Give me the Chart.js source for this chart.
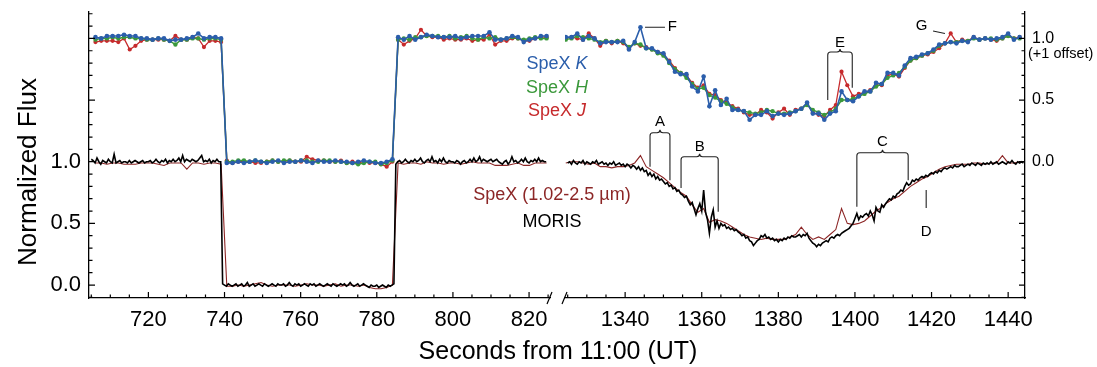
<!DOCTYPE html>
<html>
<head>
<meta charset="utf-8">
<title>Occultation light curves</title>
<script src="https://cdn.jsdelivr.net/npm/chart.js@4.4.1/dist/chart.umd.min.js"></script>
<style>
  body { margin: 0; background: #fff; }
  #wrap { position: relative; width: 1097px; height: 367px; }
  #wrap canvas { position: absolute; left: 0; top: 0; }
</style>
</head>
<body>
<div id="wrap">
  <canvas id="leftChart" width="1097" height="367"></canvas>
  <canvas id="rightChart" width="1097" height="367"></canvas>
</div>
<script>
'use strict';

// tick labels
let leftTicks = [720, 740, 760, 780, 800, 820];
let rightTicks = [1340, 1360, 1380, 1400, 1420, 1440];
let fluxTicks = [0, 0.5, 1.0];
let offsetTicks = [1.0, 1.5, 2.0];
let upperOffset = 1;

// sampling (seconds from 11:00 UT)
let spexStep = 1.5;
let spexLeftStart = 706.1;
let spexRightStart = 1324.5;
let morisStep = 0.5;
let morisLeftStart = 705.0;
let morisRightStart = 1325.0;

// SpeX K / H / J, plotted with +1 offset
let spexKLeft = [
  1.01, 1.00, 1.02, 1.02, 1.02, 1.03, 1.02, 1.02, 1.00, 1.00,
  0.99, 1.00, 1.00, 0.98, 0.99, 0.99, 1.00, 1.01, 1.04, 1.00,
  1.01, 1.01, 1.00, -0.01, -0.01, 0.00, -0.01, 0.00, 0.01, 0.00,
  -0.01, 0.00, 0.01, -0.01, 0.00, 0.00, 0.01, 0.00, -0.01, 0.01,
  0.00, 0.00, 0.01, 0.00, 0.00, -0.01, 0.00, 0.01, 0.00, -0.01,
  -0.01, 0.00, 0.02, 1.01, 0.99, 1.02, 0.99, 1.01, 1.03, 1.02,
  1.01, 1.01, 1.01, 1.02, 1.00, 1.01, 1.02, 1.02, 1.02, 1.05,
  0.99, 0.99, 1.00, 1.02, 1.01, 0.97, 0.99, 1.00, 1.02, 1.02
];
let spexHLeft = [
  0.99, 1.00, 1.00, 1.01, 1.00, 1.01, 1.01, 1.00, 1.00, 0.99,
  0.99, 1.00, 0.99, 0.98, 0.95, 0.99, 0.99, 1.00, 1.00, 0.99,
  1.00, 1.00, 0.99, 0.00, 0.00, 0.01, 0.01, 0.00, 0.01, 0.00,
  0.00, 0.01, 0.00, 0.01, 0.01, 0.00, 0.01, 0.01, 0.00, 0.00,
  0.01, 0.01, 0.00, 0.00, -0.01, -0.01, -0.02, -0.01, 0.00, 0.00,
  -0.02, -0.01, 0.01, 0.99, 1.00, 0.99, 1.01, 1.01, 1.02, 1.02,
  1.02, 1.01, 1.02, 1.00, 1.01, 1.02, 1.00, 0.99, 1.01, 1.00,
  1.01, 0.99, 1.00, 1.01, 1.00, 0.99, 1.00, 1.01, 1.00, 1.00
];
let spexJLeft = [
  0.97, 0.98, 0.98, 0.98, 0.97, 1.00, 0.91, 0.94, 0.98, 0.99,
  0.99, 0.99, 0.99, 0.98, 1.02, 0.99, 0.99, 1.01, 1.00, 0.93,
  0.98, 0.98, 0.97, 0.01, -0.01, 0.00, 0.00, 0.00, -0.01, -0.01,
  0.00, 0.01, 0.00, 0.00, 0.01, 0.00, 0.00, 0.04, 0.02, 0.01,
  0.01, 0.00, 0.00, 0.01, -0.01, 0.00, -0.01, 0.00, -0.01, -0.01,
  -0.02, -0.04, 0.00, 0.99, 0.95, 0.98, 1.00, 1.07, 1.02, 1.01,
  1.01, 0.99, 1.00, 0.99, 0.99, 1.00, 0.98, 0.99, 0.99, 1.03,
  0.95, 0.98, 0.98, 1.00, 1.00, 0.98, 0.98, 1.00, 1.01, 1.01
];
let spexKRight = [
  1.01, 1.01, 1.04, 0.99, 1.02, 1.00, 0.96, 0.97, 0.97, 0.97,
  0.98, 0.91, 0.97, 1.09, 0.92, 0.92, 0.89, 0.88, 0.81, 0.73,
  0.71, 0.71, 0.61, 0.57, 0.69, 0.45, 0.58, 0.46, 0.51, 0.42,
  0.42, 0.41, 0.34, 0.38, 0.38, 0.41, 0.37, 0.39, 0.38, 0.39,
  0.41, 0.43, 0.48, 0.39, 0.39, 0.34, 0.39, 0.41, 0.57, 0.50,
  0.49, 0.53, 0.57, 0.57, 0.64, 0.63, 0.72, 0.72, 0.70, 0.78,
  0.84, 0.85, 0.87, 0.88, 0.91, 0.95, 0.96, 0.97, 0.96, 0.98,
  0.97, 1.01, 0.99, 1.00, 0.99, 1.00, 1.01, 1.04, 0.99, 1.01
];
let spexHRight = [
  0.99, 1.00, 1.02, 1.01, 1.00, 0.99, 0.97, 0.98, 0.97, 0.98,
  0.97, 0.93, 0.96, 0.95, 0.92, 0.91, 0.88, 0.86, 0.80, 0.75,
  0.72, 0.68, 0.63, 0.59, 0.60, 0.54, 0.52, 0.49, 0.47, 0.44,
  0.42, 0.41, 0.40, 0.39, 0.40, 0.42, 0.41, 0.39, 0.39, 0.40,
  0.41, 0.43, 0.46, 0.42, 0.40, 0.38, 0.40, 0.43, 0.50, 0.50,
  0.51, 0.53, 0.55, 0.57, 0.61, 0.63, 0.68, 0.70, 0.72, 0.77,
  0.82, 0.84, 0.86, 0.88, 0.90, 0.94, 0.96, 0.97, 0.97, 0.98,
  0.98, 1.00, 0.99, 1.00, 1.00, 0.99, 1.00, 1.02, 1.00, 1.00
];
let spexJRight = [
  1.00, 1.01, 1.00, 0.99, 1.04, 1.00, 0.94, 0.98, 0.96, 0.98,
  0.96, 0.92, 0.96, 0.94, 0.93, 0.91, 0.89, 0.87, 0.82, 0.76,
  0.72, 0.70, 0.64, 0.60, 0.62, 0.55, 0.54, 0.50, 0.48, 0.45,
  0.43, 0.40, 0.38, 0.38, 0.42, 0.40, 0.35, 0.40, 0.43, 0.38,
  0.42, 0.43, 0.47, 0.40, 0.38, 0.37, 0.42, 0.46, 0.73, 0.62,
  0.53, 0.55, 0.56, 0.58, 0.62, 0.62, 0.70, 0.71, 0.69, 0.76,
  0.82, 0.84, 0.86, 0.87, 0.89, 0.92, 0.96, 1.04, 0.97, 0.99,
  0.98, 1.01, 0.99, 1.00, 0.99, 0.98, 1.00, 1.02, 1.00, 1.01
];

// SpeX 1.02-2.5 um combined
let spexLeft = [
  0.99, 0.99, 0.98, 0.99, 0.99, 0.98, 0.98, 0.98, 0.99, 0.99,
  0.99, 0.98, 0.97, 0.99, 0.99, 0.99, 0.94, 0.99, 0.99, 0.98,
  0.99, 0.99, 0.98, -0.01, -0.01, 0.00, -0.01, 0.00, 0.01, 0.02,
  0.00, -0.01, 0.00, 0.00, 0.00, -0.01, 0.00, 0.01, 0.00, 0.00,
  -0.01, 0.00, 0.01, -0.01, 0.00, 0.00, -0.01, 0.00, -0.02, -0.03,
  -0.03, -0.02, 0.00, 0.99, 0.98, 0.99, 0.99, 0.98, 1.00, 0.99,
  0.99, 0.98, 0.99, 0.99, 0.98, 0.99, 1.00, 0.99, 0.99, 0.99,
  0.97, 0.97, 0.97, 0.98, 0.99, 0.97, 0.97, 0.99, 0.99, 0.99
];
let spexRight = [
  0.99, 1.00, 1.00, 0.99, 0.98, 0.99, 0.96, 0.96, 0.95, 0.96,
  0.96, 0.97, 0.99, 1.05, 0.96, 0.93, 0.90, 0.87, 0.83, 0.79,
  0.75, 0.72, 0.65, 0.59, 0.62, 0.51, 0.53, 0.52, 0.50, 0.47,
  0.44, 0.41, 0.39, 0.38, 0.37, 0.38, 0.37, 0.37, 0.37, 0.39,
  0.41, 0.47, 0.41, 0.37, 0.39, 0.37, 0.41, 0.45, 0.62, 0.50,
  0.49, 0.50, 0.52, 0.56, 0.60, 0.63, 0.67, 0.70, 0.72, 0.76,
  0.80, 0.83, 0.86, 0.88, 0.91, 0.94, 0.96, 0.97, 0.98, 0.98,
  0.98, 0.99, 0.99, 0.98, 0.99, 0.99, 1.05, 0.99, 0.99, 1.00
];

// MORIS
let morisLeft = [
  1.02, 1.01, 0.99, 1.03, 1.00, 0.98, 1.01, 1.00, 0.99, 1.02,
  1.00, 0.99, 1.06, 0.99, 1.00, 1.01, 0.99, 1.00, 1.00, 0.99,
  1.01, 0.99, 1.00, 1.01, 1.00, 0.99, 1.00, 1.01, 0.99, 1.00,
  1.00, 1.01, 0.99, 1.00, 1.02, 1.00, 0.99, 1.01, 1.00, 1.02,
  0.99, 1.01, 1.00, 1.02, 1.00, 1.01, 1.03, 1.00, 1.05, 1.00,
  1.02, 1.01, 1.00, 1.02, 1.01, 1.00, 1.01, 1.03, 1.05, 1.00,
  1.01, 1.00, 1.02, 0.99, 1.01, 1.00, 1.02, 1.00, 1.00, 0.01,
  0.00, -0.01, 0.01, 0.00, -0.01, 0.00, 0.01, -0.01, 0.00, 0.01,
  -0.01, 0.00, 0.02, -0.01, 0.00, 0.01, -0.01, 0.00, 0.01, 0.00,
  -0.01, 0.01, 0.00, -0.01, 0.00, 0.01, 0.00, -0.01, 0.01, 0.00,
  0.00, 0.01, -0.01, 0.00, 0.02, 0.00, -0.01, 0.01, 0.00, 0.01,
  -0.01, 0.00, 0.01, 0.00, -0.01, 0.01, 0.00, 0.01, -0.01, 0.00,
  0.01, 0.00, -0.01, 0.00, 0.01, 0.00, -0.01, 0.01, 0.00, -0.01,
  0.00, 0.01, 0.00, 0.01, -0.01, 0.00, 0.02, 0.00, -0.01, 0.00,
  0.01, -0.01, 0.00, 0.01, 0.00, -0.01, -0.02, 0.00, -0.01, -0.01,
  0.00, -0.02, -0.01, 0.00, -0.01, -0.02, 0.00, -0.01, 0.00, 0.01,
  0.98, 1.00, 1.01, 0.99, 1.00, 1.02, 1.00, 0.99, 1.01, 1.00,
  1.02, 1.00, 1.01, 1.03, 1.00, 0.99, 1.01, 1.02, 1.00, 1.04,
  1.00, 1.01, 0.99, 1.02, 1.00, 1.03, 1.00, 0.99, 1.01, 1.00,
  1.00, 0.99, 1.01, 1.00, 0.98, 1.00, 1.01, 0.99, 1.00, 1.02,
  1.00, 1.03, 1.00, 1.01, 1.04, 1.00, 1.02, 1.01, 1.00, 1.01,
  1.02, 1.00, 1.01, 1.02, 1.00, 0.99, 0.98, 1.00, 1.01, 0.98,
  1.00, 1.04, 1.00, 1.01, 0.99, 1.00, 1.02, 1.00, 1.03, 1.00,
  0.99, 1.01, 1.00, 1.02, 1.00, 1.03, 1.00, 1.01, 1.00, 1.00
];
let morisRight = [
  0.99, 1.00, 0.98, 1.01, 0.99, 0.98, 1.00, 0.99, 1.01, 0.98,
  1.00, 0.99, 0.98, 1.00, 0.99, 1.01, 0.98, 0.99, 1.00, 0.98,
  0.99, 0.97, 0.99, 0.98, 1.00, 0.97, 0.98, 0.99, 0.97, 0.98,
  0.96, 0.98, 0.97, 0.95, 0.97, 0.96, 0.94, 0.96, 0.93, 0.95,
  0.92, 0.93, 0.89, 0.91, 0.88, 0.90, 0.86, 0.88, 0.85, 0.86,
  0.84, 0.82, 0.83, 0.80, 0.81, 0.78, 0.79, 0.76, 0.77, 0.74,
  0.73, 0.71, 0.72, 0.68, 0.65, 0.67, 0.62, 0.57, 0.62, 0.66,
  0.60, 0.77, 0.59, 0.53, 0.42, 0.55, 0.61, 0.47, 0.52, 0.46,
  0.50, 0.48, 0.49, 0.46, 0.47, 0.45, 0.46, 0.44, 0.45, 0.43,
  0.42, 0.40, 0.41, 0.38, 0.39, 0.36, 0.35, 0.32, 0.34, 0.36,
  0.37, 0.40, 0.39, 0.41, 0.38, 0.39, 0.37, 0.38, 0.36, 0.37,
  0.35, 0.37, 0.36, 0.38, 0.37, 0.39, 0.38, 0.40, 0.39, 0.39,
  0.40, 0.41, 0.39, 0.41, 0.40, 0.42, 0.38, 0.36, 0.34, 0.33,
  0.31, 0.33, 0.32, 0.34, 0.35, 0.36, 0.35, 0.38, 0.39, 0.38,
  0.40, 0.41, 0.40, 0.42, 0.43, 0.44, 0.45, 0.46, 0.48, 0.50,
  0.54, 0.58, 0.53, 0.56, 0.55, 0.57, 0.58, 0.56, 0.60, 0.57,
  0.52, 0.63, 0.60, 0.59, 0.65, 0.63, 0.66, 0.68, 0.70, 0.69,
  0.72, 0.71, 0.74, 0.75, 0.77, 0.76, 0.80, 0.83, 0.81, 0.82,
  0.85, 0.84, 0.86, 0.85, 0.87, 0.88, 0.87, 0.89, 0.88, 0.90,
  0.91, 0.90, 0.92, 0.91, 0.93, 0.92, 0.94, 0.95, 0.94, 0.95,
  0.96, 0.95, 0.97, 0.96, 0.96, 0.97, 0.98, 0.96, 0.97, 0.98,
  0.97, 0.99, 0.98, 0.97, 0.99, 0.98, 0.97, 0.99, 0.98, 0.99,
  0.98, 1.00, 0.98, 0.99, 1.00, 0.98, 0.99, 1.00, 0.99, 0.98,
  1.00, 0.99, 1.01, 0.99, 0.98, 1.00, 0.99, 1.00, 0.99
];

// event labels in data coordinates (seconds, left-axis flux)
let braces = [
  { name: 'A', t1: 1346.5, t2: 1351.7, top: 1.235, label: 1.32, yl: 0.96, yr: 0.85 },
  { name: 'B', t1: 1354.6, t2: 1364.3, top: 1.04, label: 1.12, yl: 0.787, yr: 0.594 },
  { name: 'C', t1: 1400.5, t2: 1413.9, top: 1.073, label: 1.165, yl: 0.635, yr: 0.85 },
  { name: 'E', t1: 1392.9, t2: 1399.3, top: 1.89, label: 1.965, yl: 1.50, yr: 1.60 }
];

const FONT = '"Liberation Sans", Arial, Helvetica, sans-serif';
Chart.defaults.font.family = FONT;
Chart.defaults.color = '#000';

let colK = '#2b5eab';
let colH = '#3b983b';
let colJ = '#c62a2c';
let colSpex = '#8c2626';

function series(start, step, vals, offset) {
  return vals.map((v, i) => ({ x: start + i * step, y: v + offset }));
}

function makeDatasets(isLeft) {
  let ms = isLeft ? morisLeftStart : morisRightStart;
  let ss = isLeft ? spexLeftStart : spexRightStart;
  return [
    { label: 'MORIS', data: series(ms, morisStep, isLeft ? morisLeft : morisRight, 0),
      borderColor: '#000', borderWidth: 1.6, pointRadius: 0, showLine: true },
    { label: 'SpeX (1.02-2.5 µm)', data: series(ss, spexStep, isLeft ? spexLeft : spexRight, 0),
      borderColor: colSpex, borderWidth: 1.1, pointRadius: 0, showLine: true },
    { label: 'SpeX K', data: series(ss, spexStep, isLeft ? spexKLeft : spexKRight, upperOffset),
      borderColor: colK, backgroundColor: colK, borderWidth: 1.6, pointRadius: 2.3, pointBorderWidth: 0, showLine: true },
    { label: 'SpeX H', data: series(ss, spexStep, isLeft ? spexHLeft : spexHRight, upperOffset),
      borderColor: colH, backgroundColor: colH, borderWidth: 1.5, pointRadius: 2.2, pointBorderWidth: 0, showLine: true },
    { label: 'SpeX J', data: series(ss, spexStep, isLeft ? spexJLeft : spexJRight, upperOffset),
      borderColor: colJ, backgroundColor: colJ, borderWidth: 1.3, pointRadius: 2.1, pointBorderWidth: 0, showLine: true }
  ];
}

function makeOptions(isLeft) {
  return {
    responsive: false,
    animation: false,
    events: [],
    layout: { padding: isLeft ? { top: 12, right: 547, left: 0, bottom: 0 } : { top: 12, left: 565, right: 0, bottom: 0 } },
    plugins: { legend: { display: false }, tooltip: { enabled: false }, insideTicks: { left: isLeft } },
    scales: {
      x: {
        type: 'linear', position: 'bottom',
        min: isLeft ? 704.4 : 1324.3,
        max: isLeft ? 825.5 : 1444.4,
        grid: { display: false, drawTicks: false },
        border: { display: true, color: '#000', width: 1.3 },
        afterBuildTicks: s => { s.ticks = (isLeft ? leftTicks : rightTicks).map(v => ({ value: v })); },
        afterFit: s => { s.height = 69; s.paddingLeft = 0; s.paddingRight = 0; },
        ticks: { font: { size: 22 }, padding: 9, maxRotation: 0, autoSkip: false, callback: v => String(v) }
      },
      y: {
        type: 'linear', position: isLeft ? 'left' : 'right',
        min: -0.105, max: 2.214,
        grid: { display: false, drawTicks: false },
        border: { display: true, color: '#000', width: 1.3 },
        afterBuildTicks: s => { s.ticks = (isLeft ? fluxTicks : offsetTicks).map(v => ({ value: v })); },
        afterFit: s => { s.width = isLeft ? 89 : 72; s.paddingTop = 0; s.paddingBottom = 0; },
        ticks: isLeft
          ? { font: { size: 22 }, padding: 8, autoSkip: false, callback: v => v.toFixed(1) }
          : { font: { size: 16 }, padding: 7, autoSkip: false, callback: v => (v - upperOffset).toFixed(1) }
      }
    }
  };
}

// ticks point inward, minor every 5 s / 0.1
let insideTicks = {
  id: 'insideTicks',
  afterDraw(chart, args, opts) {
    let ctx = chart.ctx, x = chart.scales.x, y = chart.scales.y, a = chart.chartArea;
    ctx.save();
    ctx.strokeStyle = '#000';
    ctx.lineWidth = 1.2;
    ctx.beginPath();
    for (let i = Math.ceil(x.min / 5); i * 5 <= x.max; i++) {
      let px = x.getPixelForValue(i * 5);
      let len = i % 4 === 0 ? 6 : 3.5;
      ctx.moveTo(px, a.bottom);
      ctx.lineTo(px, a.bottom - len);
    }
    let edge = opts.left ? a.left : a.right;
    let dir = opts.left ? 1 : -1;
    for (let i = Math.ceil(y.min * 10); i <= Math.floor(y.max * 10); i++) {
      let py = y.getPixelForValue(i / 10);
      let len = i % 5 === 0 ? 6 : 3.5;
      ctx.moveTo(edge, py);
      ctx.lineTo(edge + dir * len, py);
    }
    // axis break mark
    let bx = opts.left ? a.right : a.left;
    ctx.moveTo(bx - 3, a.bottom + 6);
    ctx.lineTo(bx + 2, a.bottom - 6);
    ctx.stroke();
    ctx.restore();
  }
};

function twoPartLabel(ctx, plain, italic, cx, cy, color) {
  ctx.font = '18px ' + FONT;
  let w1 = ctx.measureText(plain).width;
  ctx.font = 'italic 18px ' + FONT;
  let w2 = ctx.measureText(italic).width;
  let x0 = cx - (w1 + w2) / 2;
  ctx.fillStyle = color;
  ctx.textAlign = 'left';
  ctx.textBaseline = 'middle';
  ctx.font = '18px ' + FONT;
  ctx.fillText(plain, x0, cy);
  ctx.font = 'italic 18px ' + FONT;
  ctx.fillText(italic, x0 + w1, cy);
}

let leftText = {
  id: 'leftText',
  afterDraw(chart) {
    let ctx = chart.ctx;
    ctx.save();
    ctx.fillStyle = '#000';
    ctx.textAlign = 'center';
    ctx.textBaseline = 'middle';
    ctx.font = '25px ' + FONT;
    ctx.fillText('Seconds from 11:00 (UT)', 558, 352);

    ctx.save();
    ctx.translate(36, 172);
    ctx.rotate(-Math.PI / 2);
    ctx.textBaseline = 'alphabetic';
    ctx.font = '26px ' + FONT;
    ctx.fillText('Normalized Flux', 0, 0);
    ctx.restore();

    twoPartLabel(ctx, 'SpeX ', 'K', 557, 64, colK);
    twoPartLabel(ctx, 'SpeX ', 'H', 557, 88, colH);
    twoPartLabel(ctx, 'SpeX ', 'J', 557, 111, colJ);

    ctx.textAlign = 'center';
    ctx.font = '18px ' + FONT;
    ctx.fillStyle = colSpex;
    ctx.fillText('SpeX (1.02-2.5 µm)', 552, 195);
    ctx.fillStyle = '#000';
    ctx.fillText('MORIS', 552, 222);
    ctx.restore();
  }
};

function brace(ctx, x1, x2, top, yl, yr) {
  let xm = (x1 + x2) / 2, r = 3;
  ctx.beginPath();
  ctx.moveTo(x1, yl);
  ctx.lineTo(x1, top + r);
  ctx.quadraticCurveTo(x1, top, x1 + r, top);
  ctx.lineTo(xm - r, top);
  ctx.quadraticCurveTo(xm, top, xm, top - r);
  ctx.quadraticCurveTo(xm, top, xm + r, top);
  ctx.lineTo(x2 - r, top);
  ctx.quadraticCurveTo(x2, top, x2, top + r);
  ctx.lineTo(x2, yr);
  ctx.stroke();
}

let rightText = {
  id: 'rightText',
  afterDraw(chart) {
    let ctx = chart.ctx, xs = chart.scales.x, ys = chart.scales.y;
    let X = t => xs.getPixelForValue(t);
    let Y = v => ys.getPixelForValue(v);
    ctx.save();
    ctx.strokeStyle = '#222';
    ctx.fillStyle = '#000';
    ctx.lineWidth = 1.1;
    ctx.font = '15px ' + FONT;
    ctx.textAlign = 'center';
    ctx.textBaseline = 'middle';
    braces.forEach(b => {
      brace(ctx, X(b.t1), X(b.t2), Y(b.top), Y(b.yl), Y(b.yr));
      ctx.fillText(b.name, X((b.t1 + b.t2) / 2), Y(b.label));
    });

    ctx.beginPath();
    ctx.moveTo(X(1418.6), Y(0.77));
    ctx.lineTo(X(1418.6), Y(0.625));
    ctx.moveTo(X(1345.2), Y(2.09));
    ctx.lineTo(X(1350.4), Y(2.09));
    ctx.moveTo(X(1420.4), Y(2.06));
    ctx.lineTo(X(1423.5), Y(2.04));
    ctx.stroke();
    ctx.fillText('D', X(1418.6), Y(0.435));
    ctx.fillText('F', X(1352.3), Y(2.09));
    ctx.fillText('G', X(1417.4), Y(2.10));

    ctx.textAlign = 'left';
    ctx.font = '14.5px ' + FONT;
    ctx.fillText('(+1 offset)', chart.chartArea.right + 3, 54);
    ctx.restore();
  }
};

new Chart(document.getElementById('leftChart'), {
  type: 'scatter',
  data: { datasets: makeDatasets(true) },
  options: makeOptions(true),
  plugins: [insideTicks, leftText]
});

new Chart(document.getElementById('rightChart'), {
  type: 'scatter',
  data: { datasets: makeDatasets(false) },
  options: makeOptions(false),
  plugins: [insideTicks, rightText]
});
</script>
</body>
</html>
